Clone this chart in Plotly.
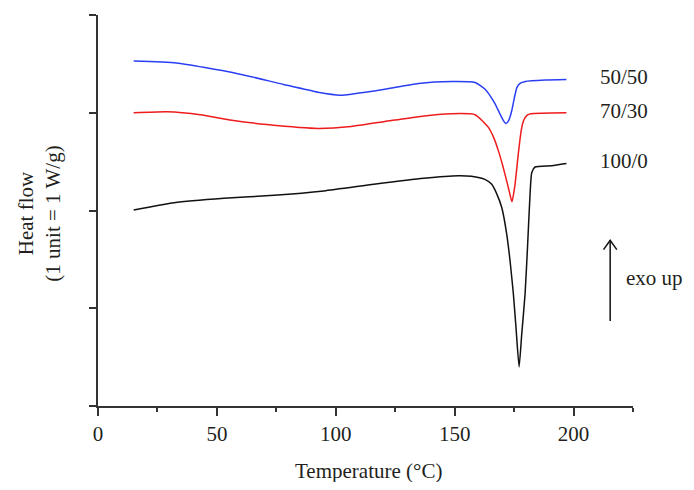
import plotly.graph_objects as go

# ---- data ----
t_5050 = [15, 33, 57, 78, 92.5, 102, 106.5, 120.6, 134.7, 148.7, 158.6, 162.8, 165, 167, 169,
          170.5, 171.6, 172.7, 174, 175, 176.2, 177.5, 179.7, 188, 197]
y_5050 = [3.53, 3.51, 3.41, 3.29, 3.21, 3.18, 3.19, 3.24, 3.30, 3.32, 3.31, 3.24, 3.17, 3.09, 2.99,
          2.92, 2.89, 2.92, 3.02, 3.14, 3.26, 3.30, 3.32, 3.335, 3.34]

t_7030 = [15, 29, 43, 57, 71, 92.5, 106.5, 120.6, 134.7, 148.7, 158.6, 164.2, 166.5, 168.4, 170.2,
          171.9, 173.2, 174.1, 175.3, 176.9, 178, 179, 180.5, 182, 197]
y_7030 = [3.00, 3.01, 2.98, 2.92, 2.88, 2.84, 2.86, 2.91, 2.96, 2.99, 2.98, 2.85, 2.74, 2.61, 2.46,
          2.30, 2.17, 2.09, 2.25, 2.61, 2.82, 2.92, 2.975, 2.99, 3.0]

t_1000 = [15, 32, 53, 74, 95, 116, 137, 151.5, 157, 162.7, 165.5, 167.7, 169.8, 171.9, 173.3,
          174.7, 175.8, 177.1, 178.2, 179.6, 180.7, 181.7, 182.4, 183.8, 190.8, 197]
y_1000 = [2.005, 2.08, 2.125, 2.155, 2.20, 2.268, 2.33, 2.356, 2.35, 2.319, 2.27, 2.17, 2.03,
          1.756, 1.483, 1.143, 0.80, 0.40, 0.733, 1.143, 1.654, 2.166, 2.387, 2.445, 2.458, 2.48]

series_names = ["50/50", "70/30", "100/0"]
series_colors = ["#2b3ff2", "#ee1c1c", "#111111"]

x_ticks = [0, 50, 100, 150, 200]
y_ticks = [0, 1, 2, 3, 4]

FONT = "Liberation Serif"
TXT = "#231f20"
FS = 21

fig = go.Figure()
for t, y, c, n in zip([t_5050, t_7030, t_1000], [y_5050, y_7030, y_1000], series_colors, series_names):
    fig.add_trace(go.Scatter(x=t, y=y, mode="lines", name=n,
                             line=dict(color=c, width=1.5, shape="spline", smoothing=0.5)))

# curve labels
label_y = [3.366, 3.018, 2.506]
for n, ly in zip(series_names, label_y):
    fig.add_annotation(x=210.4, y=ly, xref="x", yref="y", text=n, showarrow=False,
                       xanchor="left", yanchor="middle",
                       font=dict(family=FONT, size=FS, color=TXT))

# exo up arrow
ax_x = 215.4
fig.add_shape(type="line", x0=ax_x, x1=ax_x, y0=0.87, y1=1.695, xref="x", yref="y",
              line=dict(color="#111111", width=1.5))
fig.add_shape(type="path", xref="x", yref="y",
              path=f"M {ax_x-2.8},1.60 L {ax_x},1.695 L {ax_x+2.8},1.60",
              line=dict(color="#111111", width=1.5))
fig.add_annotation(x=221.1, y=1.313, xref="x", yref="y", text="exo up", showarrow=False,
                   xanchor="left", yanchor="middle", font=dict(family=FONT, size=FS, color=TXT))

# axis titles
fig.add_annotation(x=0.505, y=-0.166, xref="paper", yref="paper", text="Temperature (°C)",
                   showarrow=False, xanchor="center", yanchor="middle",
                   font=dict(family=FONT, size=FS, color=TXT))
fig.add_annotation(x=-0.111, y=0.491, xref="paper", yref="paper",
                   text="Heat flow<br>(1 unit = 1 W/g)", textangle=-90,
                   showarrow=False, xanchor="center", yanchor="middle",
                   font=dict(family=FONT, size=FS, color=TXT))

fig.update_layout(
    width=678, height=474,
    margin=dict(l=90, r=53, t=7, b=76),
    paper_bgcolor="white", plot_bgcolor="white",
    showlegend=False,
    font=dict(family=FONT, size=FS, color=TXT),
)
fig.update_xaxes(range=[0, 225], tickvals=x_ticks, ticks="outside", ticklen=8, tickwidth=1.5,
                 tickcolor="#333333", showline=True, linecolor="#333333", linewidth=1.5,
                 showgrid=False, zeroline=False,
                 minor=dict(dtick=25, tick0=0, ticks="outside", ticklen=4, tickwidth=1.5,
                            tickcolor="#333333", showgrid=False),
                 tickfont=dict(family=FONT, size=FS, color=TXT))
fig.update_yaxes(range=[0, 4], tickvals=y_ticks, ticks="outside", ticklen=7, tickwidth=1.5,
                 tickcolor="#333333", showline=True, linecolor="#333333", linewidth=1.5,
                 showgrid=False, zeroline=False, showticklabels=False)

fig.write_html("out.html")
